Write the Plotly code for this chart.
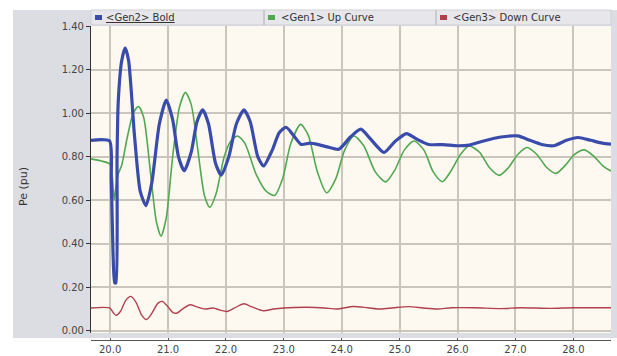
import plotly.graph_objects as go

# Generator electrical power (pu) after a disturbance at t = 20 s
gen2_t = [19.67, 19.99, 20.02, 20.05, 20.08, 20.10, 20.12, 20.14, 20.20, 20.26, 20.32, 20.42, 20.52,
          20.62, 20.72, 20.85, 20.97, 21.08, 21.18, 21.28, 21.40, 21.50, 21.60, 21.70, 21.82, 21.92,
          22.05, 22.18, 22.31, 22.42, 22.55, 22.65, 22.80, 22.92, 23.04, 23.16, 23.30, 23.45, 23.60,
          23.75, 23.95, 24.15, 24.33, 24.50, 24.73, 24.92, 25.12, 25.30, 25.50, 25.75, 26.00, 26.20,
          26.45, 26.75, 27.04, 27.25, 27.45, 27.66, 27.88, 28.08, 28.30, 28.50, 28.65]
gen2_pe = [0.875, 0.872, 0.70, 0.36, 0.22, 0.22, 0.80, 1.05, 1.24, 1.30, 1.24, 0.90, 0.64,
           0.575, 0.68, 0.95, 1.06, 0.97, 0.80, 0.735, 0.82, 0.96, 1.015, 0.95, 0.77, 0.715,
           0.80, 0.95, 1.015, 0.96, 0.80, 0.757, 0.83, 0.91, 0.935, 0.90, 0.856, 0.862, 0.855,
           0.845, 0.834, 0.89, 0.926, 0.88, 0.819, 0.87, 0.906, 0.88, 0.856, 0.855, 0.85, 0.853,
           0.872, 0.89, 0.895, 0.875, 0.856, 0.85, 0.875, 0.888, 0.875, 0.862, 0.857]

gen1_t = [19.67, 19.85, 20.00, 20.04, 20.07, 20.10, 20.14, 20.20, 20.29, 20.40, 20.49, 20.58, 20.70,
          20.80, 20.88, 20.97, 21.08, 21.20, 21.30, 21.40, 21.52, 21.63, 21.72, 21.83, 21.97, 22.08,
          22.20, 22.33, 22.52, 22.70, 22.84, 22.98, 23.12, 23.29, 23.42, 23.58, 23.74, 23.90, 24.05,
          24.21, 24.38, 24.58, 24.76, 24.92, 25.08, 25.25, 25.42, 25.58, 25.74, 25.90, 26.05, 26.20,
          26.38, 26.55, 26.72, 26.88, 27.04, 27.20, 27.37, 27.54, 27.70, 27.86, 28.02, 28.19, 28.36,
          28.52, 28.65]
gen1_pe = [0.79, 0.78, 0.765, 0.70, 0.60, 0.66, 0.72, 0.76, 0.88, 1.00, 1.03, 0.98, 0.72,
           0.50, 0.435, 0.52, 0.80, 1.03, 1.095, 1.04, 0.82, 0.62, 0.567, 0.63, 0.80, 0.87,
           0.895, 0.86, 0.72, 0.64, 0.622, 0.70, 0.86, 0.948, 0.90, 0.73, 0.634, 0.70, 0.83,
           0.895, 0.85, 0.73, 0.684, 0.74, 0.83, 0.872, 0.83, 0.73, 0.685, 0.74, 0.81, 0.849,
           0.82, 0.75, 0.714, 0.75, 0.81, 0.842, 0.81, 0.75, 0.723, 0.76, 0.81, 0.831, 0.80,
           0.755, 0.734]

gen3_t = [19.67, 19.99, 20.05, 20.10, 20.18, 20.27, 20.36, 20.45, 20.55, 20.63, 20.72, 20.82, 20.90,
          21.00, 21.08, 21.15, 21.25, 21.38, 21.50, 21.64, 21.78, 21.90, 22.02, 22.15, 22.31, 22.45,
          22.65, 22.82, 23.00, 23.40, 23.70, 23.92, 24.20, 24.45, 24.67, 24.90, 25.16, 25.40, 25.65,
          25.90, 26.30, 26.75, 27.10, 27.60, 28.00, 28.65]
gen3_pe = [0.105, 0.105, 0.085, 0.071, 0.09, 0.14, 0.158, 0.13, 0.07, 0.052, 0.08, 0.125, 0.135,
           0.11, 0.085, 0.081, 0.10, 0.12, 0.11, 0.10, 0.105, 0.095, 0.089, 0.105, 0.124, 0.11,
           0.092, 0.10, 0.105, 0.108, 0.105, 0.10, 0.112, 0.106, 0.10, 0.106, 0.111, 0.105, 0.10,
           0.106, 0.106, 0.102, 0.106, 0.103, 0.106, 0.106]

series_names = ["&lt;Gen2&gt; Bold", "&lt;Gen1&gt; Up Curve", "&lt;Gen3&gt; Down Curve"]
series_colors = ["#3a4cab", "#52a852", "#b0404e"]

y_ticks = [0.0, 0.2, 0.4, 0.6, 0.8, 1.0, 1.2, 1.4]
x_ticks = [20, 21, 22, 23, 24, 25, 26, 27, 28]

# Page geometry (pixels) for margins and decorations
W, H = 617, 356
ML, MR, MT, MB = 91, 6, 26, 16
PW, PH = W - ML - MR, H - MT - MB


def px_x(px):
    return (px - ML) / PW


def px_y(py):
    return (H - MB - py) / PH


fig = go.Figure()
fig.add_trace(go.Scatter(x=gen1_t, y=gen1_pe, mode="lines", name="Gen1",
                         line=dict(color=series_colors[1], width=1.6, shape="spline", smoothing=0.7)))
fig.add_trace(go.Scatter(x=gen3_t, y=gen3_pe, mode="lines", name="Gen3",
                         line=dict(color=series_colors[2], width=1.4, shape="spline", smoothing=0.7)))
fig.add_trace(go.Scatter(x=gen2_t, y=gen2_pe, mode="lines", name="Gen2",
                         line=dict(color=series_colors[0], width=3.2, shape="spline", smoothing=0.6)))

shapes = [
    # grey window panel
    dict(type="rect", xref="paper", yref="paper", x0=px_x(13), x1=px_x(617), y0=px_y(338), y1=px_y(10),
         fillcolor="#dcdde3", line=dict(width=0), layer="below"),
    # cream plotting area
    dict(type="rect", xref="paper", yref="paper", x0=0, x1=1, y0=px_y(333), y1=1,
         fillcolor="#fdf9f0", line=dict(width=0), layer="below"),
    # legend strip
    dict(type="rect", xref="paper", yref="paper", x0=px_x(91), x1=px_x(611), y0=px_y(25), y1=px_y(10),
         fillcolor="#e6e6eb", line=dict(color="#cfcfd6", width=1), layer="below"),
    dict(type="line", xref="paper", yref="paper", x0=px_x(264), x1=px_x(264), y0=px_y(25), y1=px_y(10),
         line=dict(color="#c0c0c8", width=1.5), layer="below"),
    dict(type="line", xref="paper", yref="paper", x0=px_x(436), x1=px_x(436), y0=px_y(25), y1=px_y(10),
         line=dict(color="#c0c0c8", width=1.5), layer="below"),
]

annotations = []
legend_pos = [(95, 104), (268, 279), (440, 451)]
for (sq_x, tx), name, col in zip(legend_pos, series_names, series_colors):
    shapes.append(dict(type="rect", xref="paper", yref="paper", x0=px_x(sq_x), x1=px_x(sq_x + 7),
                       y0=px_y(20), y1=px_y(15), fillcolor=col, line=dict(width=0)))
    label = "<u>" + name + "</u>" if name.endswith("Bold") else name
    annotations.append(dict(xref="paper", yref="paper", x=px_x(tx), y=px_y(17.5), text=label,
                            showarrow=False, xanchor="left", yanchor="middle",
                            font=dict(family="DejaVu Sans", size=10, color="#333333")))

annotations.append(dict(xref="paper", yref="paper", x=px_x(23), y=px_y(187), text="Pe (pu)",
                        textangle=-90, showarrow=False, xanchor="center", yanchor="middle",
                        font=dict(family="DejaVu Sans", size=11, color="#333333")))

fig.update_layout(
    width=W, height=H,
    margin=dict(l=ML, r=MR, t=MT, b=MB, pad=0, autoexpand=False),
    paper_bgcolor="white",
    plot_bgcolor="#fdf9f0",
    showlegend=False,
    shapes=shapes,
    annotations=annotations,
    font=dict(family="DejaVu Sans", size=10, color="#444444"),
    xaxis=dict(range=[19.67, 28.65], tickvals=x_ticks, ticktext=[f"{v:.1f}" for v in x_ticks],
               anchor="free", position=0, showline=True, linecolor="#555555", linewidth=1,
               ticks="inside", ticklen=2, tickcolor="#555555", showgrid=True, automargin=False,
               gridcolor="#cbc6bb", gridwidth=1.5, zeroline=False,
               tickfont=dict(family="DejaVu Sans", size=10, color="#444444")),
    yaxis=dict(range=[-0.01, 1.40], domain=[px_y(333), 1], tickvals=y_ticks,
               ticktext=[f"{v:.2f}" for v in y_ticks], showline=True, linecolor="#333333",
               linewidth=1.2, ticks="outside", ticklen=4, tickcolor="#333333", showgrid=True,
               automargin=False, gridcolor="#cbc6bb", gridwidth=1.5, zeroline=False,
               tickfont=dict(family="DejaVu Sans", size=10, color="#444444")),
)

fig.write_html("out.html")
